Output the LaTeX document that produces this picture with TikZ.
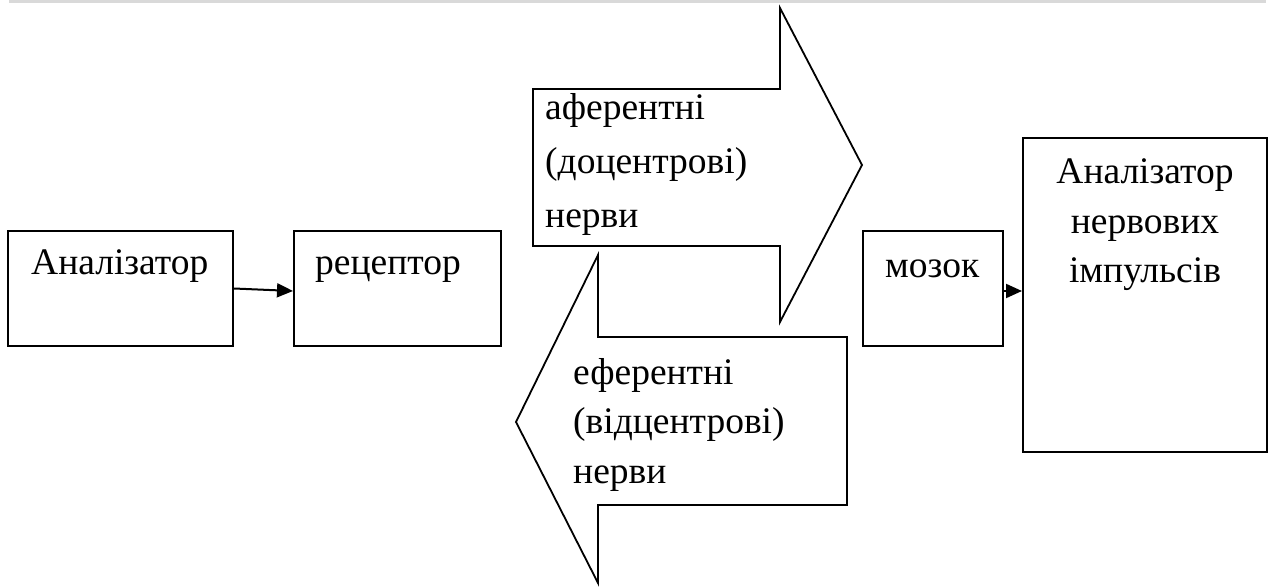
\documentclass[tikz,border=0pt]{standalone}
\usepackage{fontspec}
\setmainfont{Liberation Serif}
\usetikzlibrary{arrows.meta}
\begin{document}
\begin{tikzpicture}[x=1pt,y=-1pt,
  box/.style={draw=black,line width=2pt,fill=white,inner sep=0pt},
  lbl/.style={inner sep=0pt,anchor=base west,font=\fontsize{37.5}{49}\selectfont},
  clbl/.style={inner sep=0pt,anchor=base,font=\fontsize{37.5}{49}\selectfont},
  blockarrow/.style={draw=black,line width=1.8pt,fill=white,line join=miter},
  conn/.style={draw=black,line width=2pt,-{Triangle[length=16pt,width=14pt]}}]
\useasboundingbox (0,0) rectangle (1275,588);
\fill[black!15] (9,0) rectangle (1266,3.5);
% boxes
\node[box,minimum width=225pt,minimum height=115pt] (an) at (120.5,288.5) {};
\node[box,minimum width=207pt,minimum height=115pt] (rec) at (397.5,288.5) {};
\node[box,minimum width=140pt,minimum height=115pt] (mz) at (933,288.5) {};
\node[box,minimum width=244pt,minimum height=314pt] (rb) at (1145,295) {};
% block arrows
\draw[blockarrow] (533,89) -- (780,89) -- (780,8) -- (862,165) -- (780,322) -- (780,246) -- (533,246) -- cycle;
\draw[blockarrow] (847,337) -- (598,337) -- (598,255) -- (516,422) -- (598,583) -- (598,505) -- (847,505) -- cycle;
% labels
\node[lbl] (tan) at (31,275) {Аналізатор};
\node[lbl] (trec) at (315,275) {рецептор};
\node[lbl] (tmz) at (885,277) {мозок};
\node[clbl] (trb1) at (1145,184) {Аналізатор};
\node[clbl] (trb2) at (1145,233.5) {нервових};
\node[clbl] (trb3) at (1145,283) {імпульсів};
\node[lbl] (taf1) at (545,120) {аферентні};
\node[lbl] (taf2) at (545,174) {(доцентрові)};
\node[lbl] (taf3) at (545,228) {нерви};
\node[lbl] (tef1) at (573,384) {еферентні};
\node[lbl] (tef2) at (573,433) {(відцентрові)};
\node[lbl] (tef3) at (573,483) {нерви};
% connectors
\coordinate (anout) at (an.east);
\coordinate (recin) at ([yshift=-2.5pt]rec.west);
\draw[conn] (anout) -- (recin);
\coordinate (mzout) at ([yshift=-2.5pt]mz.east);
\draw[conn] (mzout) -- (mzout -| rb.west);
\end{tikzpicture}
\end{document}
